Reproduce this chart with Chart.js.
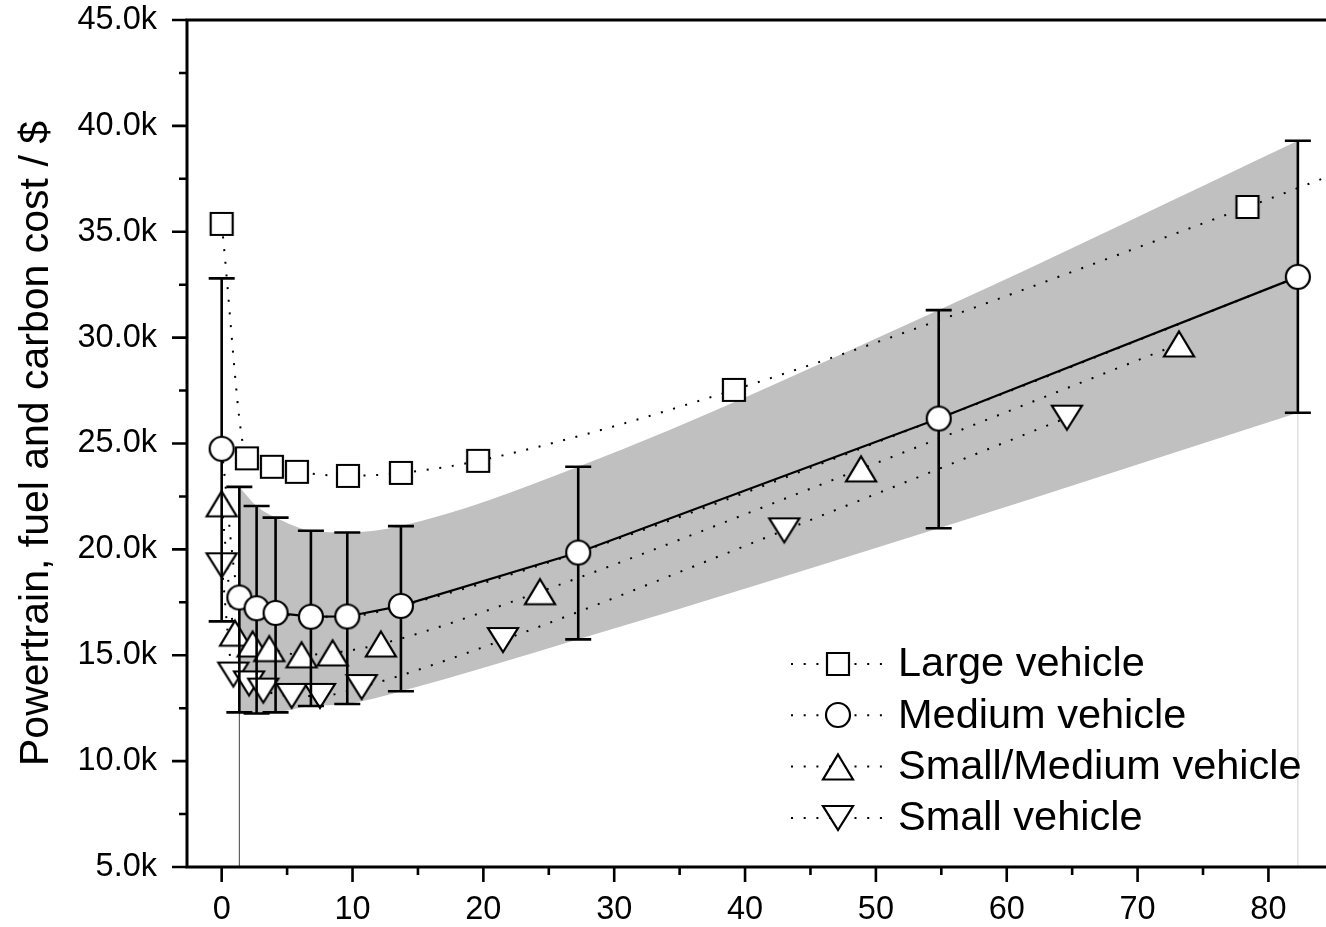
<!DOCTYPE html>
<html lang="en">
<head>
<meta charset="UTF-8">
<title>Powertrain, fuel and carbon cost</title>
<style>
  html, body { margin: 0; padding: 0; background: #fff; overflow: hidden; }
  .chart-container { width: 1326px; height: 927px; }
</style>
</head>
<body>
<div class="chart-container"><canvas id="costChart"></canvas></div>
<script src="https://cdn.jsdelivr.net/npm/chart.js"></script>
<script>
// values (cost in $k)
const largeX = [0, 1.93, 3.84, 5.75, 9.65, 13.7, 19.6, 39.15, 78.4];
const largeY = [35.37, 24.3, 23.9, 23.66, 23.47, 23.61, 24.18, 27.53, 36.17];
const largeTailX = 84.4;
const largeTailY = 37.57;

const medX = [0, 1.35, 2.67, 4.12, 6.82, 9.6, 13.7, 27.25, 54.8, 82.25];
const medY = [24.75, 17.73, 17.22, 17.0, 16.82, 16.83, 17.33, 19.85, 26.18, 32.87];
const medLo = [16.6, 12.3, 12.25, 12.3, 12.6, 12.7, 13.3, 15.75, 21.0, 26.45];
const medHi = [32.8, 22.95, 22.05, 21.5, 20.88, 20.8, 21.1, 23.9, 31.3, 39.3];

const smallMedX = [0, 1.02, 2.37, 3.64, 6.11, 8.48, 12.17, 24.33, 48.87, 73.17];
const smallMedY = [22.15, 16.04, 15.53, 15.31, 15.02, 15.11, 15.53, 18.0, 23.8, 29.7];

const smallX = [0, 0.89, 2.09, 3.18, 5.35, 7.51, 10.7, 21.5, 43.0, 64.6];
const smallY = [19.25, 14.09, 13.67, 13.33, 13.08, 13.08, 13.5, 15.72, 20.9, 26.22];

const legendLabels = ['Large vehicle', 'Medium vehicle', 'Small/Medium vehicle', 'Small vehicle'];

const xTicks = [0, 10, 20, 30, 40, 50, 60, 70, 80];
const xMinor = [5, 15, 25, 35, 45, 55, 65, 75];
const yTicks = [5, 10, 15, 20, 25, 30, 35, 40, 45];
const yMinor = [7.5, 12.5, 17.5, 22.5, 27.5, 32.5, 37.5, 42.5];

const FONT = '"Liberation Sans", Arial, sans-serif';
const DOTS = [2, 10.7];

function pts(xs, ys) {
    return xs.map((x, i) => ({ x: x, y: ys[i] }));
}

// white markers with black outline, centred on their bounding box
function makeMarker(shape) {
    const c = document.createElement('canvas');
    c.width = 38; c.height = 38;
    const g = c.getContext('2d');
    g.lineWidth = 2.2;
    g.strokeStyle = '#000';
    g.fillStyle = '#fff';
    g.beginPath();
    if (shape === 'square') {
        g.rect(8, 8, 22, 22);
    } else if (shape === 'circle') {
        g.arc(19, 19, 12, 0, Math.PI * 2);
    } else if (shape === 'up') {
        g.moveTo(19, 6.5); g.lineTo(34, 31.5); g.lineTo(4, 31.5); g.closePath();
    } else {
        g.moveTo(4, 7); g.lineTo(34, 7); g.lineTo(19, 31); g.closePath();
    }
    g.fill();
    g.stroke();
    return c;
}

const markers = {
    square: makeMarker('square'),
    circle: makeMarker('circle'),
    up: makeMarker('up'),
    down: makeMarker('down')
};

function dottedLine(data, order) {
    return {
        data: data, order: order,
        borderColor: '#000', borderWidth: 2, borderDash: DOTS,
        pointRadius: 0, cubicInterpolationMode: 'monotone', fill: false
    };
}

function markerSet(data, style, order) {
    return {
        data: data, order: order, showLine: false,
        pointStyle: style, pointRadius: 13
    };
}

const lastMed = medX.length - 1;

const errorBarPlugin = {
    id: 'errorBars',
    afterDatasetDraw(chart, args) {
        const ds = chart.data.datasets[args.index];
        if (!ds.errLo) return;
        const { ctx, scales: { x, y } } = chart;
        ctx.save();
        ctx.strokeStyle = '#000';
        ctx.lineWidth = 2.6;
        ds.data.forEach((p, i) => {
            const px = x.getPixelForValue(p.x);
            const top = y.getPixelForValue(ds.errHi[i]);
            const bot = y.getPixelForValue(ds.errLo[i]);
            ctx.beginPath();
            ctx.moveTo(px, top); ctx.lineTo(px, bot);
            ctx.moveTo(px - 13, top); ctx.lineTo(px + 13, top);
            ctx.moveTo(px - 13, bot); ctx.lineTo(px + 13, bot);
            ctx.stroke();
        });
        ctx.restore();
    }
};

const framePlugin = {
    id: 'frame',
    afterDatasetsDraw(chart) {
        const { ctx, chartArea: a, scales: { x, y } } = chart;
        ctx.save();
        ctx.strokeStyle = '#000';
        ctx.lineWidth = 3;
        ctx.beginPath();
        ctx.moveTo(a.left, a.top); ctx.lineTo(a.right, a.top);
        ctx.moveTo(a.left, a.top - 1.5); ctx.lineTo(a.left, a.bottom + 1.5);
        ctx.moveTo(a.left, a.bottom); ctx.lineTo(a.right, a.bottom);
        ctx.stroke();
        ctx.lineWidth = 2.6;
        ctx.beginPath();
        xTicks.forEach(v => { const p = x.getPixelForValue(v); ctx.moveTo(p, a.bottom); ctx.lineTo(p, a.bottom + 15); });
        xMinor.forEach(v => { const p = x.getPixelForValue(v); ctx.moveTo(p, a.bottom); ctx.lineTo(p, a.bottom + 8); });
        yTicks.forEach(v => { const p = y.getPixelForValue(v); ctx.moveTo(a.left, p); ctx.lineTo(a.left - 15, p); });
        yMinor.forEach(v => { const p = y.getPixelForValue(v); ctx.moveTo(a.left, p); ctx.lineTo(a.left - 8, p); });
        ctx.stroke();
        ctx.restore();
    },
    afterDraw(chart) {
        const ctx = chart.ctx;
        const styles = [markers.square, markers.circle, markers.up, markers.down];
        ctx.save();
        ctx.font = '41.5px ' + FONT;
        ctx.fillStyle = '#000';
        ctx.textBaseline = 'middle';
        legendLabels.forEach((label, i) => {
            const cy = 664 + i * 51.3;
            ctx.strokeStyle = '#000';
            ctx.lineWidth = 2;
            ctx.setLineDash(DOTS);
            ctx.beginPath();
            ctx.moveTo(791, cy); ctx.lineTo(884, cy);
            ctx.stroke();
            ctx.setLineDash([]);
            const m = styles[i];
            ctx.drawImage(m, Math.round(838 - m.width / 2), Math.round(cy - m.height / 2));
            ctx.fillText(label, 898, cy + 1);
        });
        ctx.restore();
    }
};

const ctx = document.getElementById('costChart').getContext('2d');
const costChart = new Chart(ctx, {
    type: 'line',
    data: {
        datasets: [
            // shaded range of the medium vehicle error bars
            {
                data: pts(medX.slice(1), medHi.slice(1)), order: 100,
                borderWidth: 0, pointRadius: 0, cubicInterpolationMode: 'monotone',
                backgroundColor: '#c0c0c0', fill: '+1'
            },
            {
                data: pts(medX.slice(1), medLo.slice(1)), order: 99,
                borderWidth: 0, pointRadius: 0, cubicInterpolationMode: 'monotone', fill: false
            },
            {
                data: [{ x: medX[1], y: yTicks[0] }, { x: medX[1], y: medLo[1] }], order: 98,
                borderColor: '#444', borderWidth: 1, pointRadius: 0, fill: false
            },
            {
                data: [{ x: medX[lastMed], y: yTicks[0] }, { x: medX[lastMed], y: medLo[lastMed] }], order: 97,
                borderColor: '#cfcfcf', borderWidth: 1, pointRadius: 0, fill: false
            },
            dottedLine(pts(largeX.concat([largeTailX]), largeY.concat([largeTailY])), 90),
            dottedLine(pts(medX, medY), 89),
            dottedLine(pts(smallMedX, smallMedY), 88),
            dottedLine(pts(smallX, smallY), 87),
            markerSet(pts(largeX, largeY), markers.square, 80),
            markerSet(pts(smallMedX, smallMedY), markers.up, 79),
            markerSet(pts(smallX, smallY), markers.down, 78),
            {
                data: pts(medX, medY), order: 70, showLine: false, pointRadius: 0,
                errLo: medLo, errHi: medHi
            },
            {
                data: pts(medX.slice(1), medY.slice(1)), order: 69,
                borderColor: '#000', borderWidth: 2.2, pointRadius: 0, tension: 0, fill: false
            },
            markerSet(pts(medX, medY), markers.circle, 60)
        ]
    },
    options: {
        responsive: true,
        maintainAspectRatio: false,
        animation: false,
        events: [],
        layout: { autoPadding: false, padding: { top: 20, right: 0, bottom: 0, left: 0 } },
        plugins: {
            legend: { display: false },
            tooltip: { enabled: false }
        },
        scales: {
            x: {
                type: 'linear',
                min: -2.65,
                max: 84.4,
                grid: { display: false },
                border: { display: false },
                ticks: {
                    padding: 16,
                    color: '#000',
                    font: { family: FONT, size: 32.5 },
                    callback: v => String(v)
                },
                afterBuildTicks: axis => { axis.ticks = xTicks.map(v => ({ value: v })); },
                afterFit: axis => {
                    axis.height = 60;
                    axis.paddingLeft = 0;
                    axis.paddingRight = 0;
                }
            },
            y: {
                type: 'linear',
                min: 5,
                max: 45,
                grid: { display: false },
                border: { display: false },
                ticks: {
                    padding: 22,
                    color: '#000',
                    font: { family: FONT, size: 32.5 },
                    callback: v => v.toFixed(1) + 'k'
                },
                afterBuildTicks: axis => { axis.ticks = yTicks.map(v => ({ value: v })); },
                afterFit: axis => {
                    axis.width = 187;
                    axis.paddingTop = 0;
                    axis.paddingBottom = 0;
                },
                title: {
                    display: true,
                    text: 'Powertrain, fuel and carbon cost / $',
                    color: '#000',
                    font: { family: FONT, size: 41 },
                    padding: { top: 12, bottom: 0 }
                }
            }
        }
    },
    plugins: [errorBarPlugin, framePlugin]
});
</script>
</body>
</html>
